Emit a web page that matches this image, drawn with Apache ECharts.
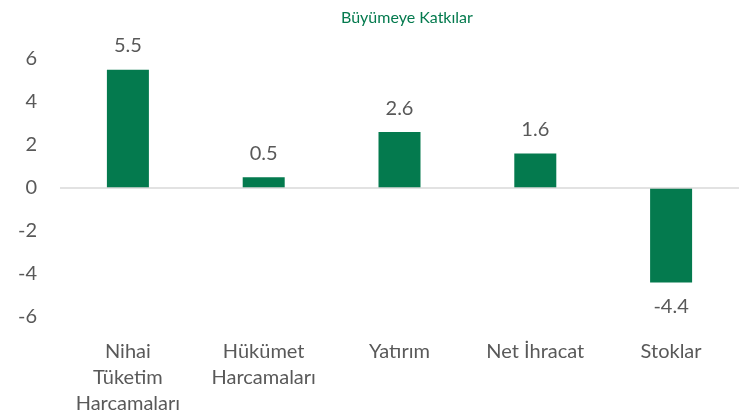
<!DOCTYPE html>
<html>
<head>
<meta charset="utf-8">
<script src="https://cdn.jsdelivr.net/npm/echarts@6/dist/echarts.min.js"></script>
<style>
  html, body { margin: 0; padding: 0; background: #fff; }
  #chart { width: 742px; height: 419px; }
</style>
</head>
<body>
<div id="chart"></div>
<script>
// kategoriler ve değerler
const categories = ["Nihai\nTüketim\nHarcamaları", "Hükümet\nHarcamaları", "Yatırım", "Net İhracat", "Stoklar"];
const values = [5.5, 0.5, 2.6, 1.6, -4.4];
const yTicks = [-6, -4, -2, 0, 2, 4, 6];

const FONT = "Lato, 'Open Sans', sans-serif";
const TEXT = "#595959";
const GREEN = "#047a4e";

const chart = echarts.init(document.getElementById("chart"));
chart.setOption({
  animation: false,
  title: {
    text: "Büyümeye Katkılar",
    left: 336,
    top: 5,
    textStyle: { color: GREEN, fontSize: 16, fontWeight: "normal", fontFamily: FONT },
  },
  grid: { left: 60, right: 3, top: 59, bottom: 102 },
  xAxis: {
    type: "category",
    data: categories,
    axisLine: { show: false, onZero: false },
    axisTick: { show: false },
    axisLabel: { color: TEXT, fontSize: 20, lineHeight: 26, margin: 22, fontFamily: FONT, interval: 0 },
  },
  yAxis: {
    type: "value",
    min: yTicks[0],
    max: yTicks[yTicks.length - 1],
    interval: 2,
    splitLine: { show: false },
    axisLine: { show: false },
    axisTick: { show: false },
    axisLabel: { color: TEXT, fontSize: 20, margin: 23, fontFamily: FONT },
  },
  series: [
    {
      type: "bar",
      data: values.map((v) => ({
        value: v,
        label: { position: v < 0 ? "bottom" : "top" },
      })),
      barWidth: 42,
      itemStyle: { color: GREEN },
      label: { show: true, color: TEXT, fontSize: 20, distance: 14, fontFamily: FONT },
      markLine: {
        silent: true,
        symbol: "none",
        label: { show: false },
        lineStyle: { color: "#d9d9d9", width: 1.5, type: "solid" },
        data: [{ yAxis: 0 }],
      },
    },
  ],
});
</script>
</body>
</html>
